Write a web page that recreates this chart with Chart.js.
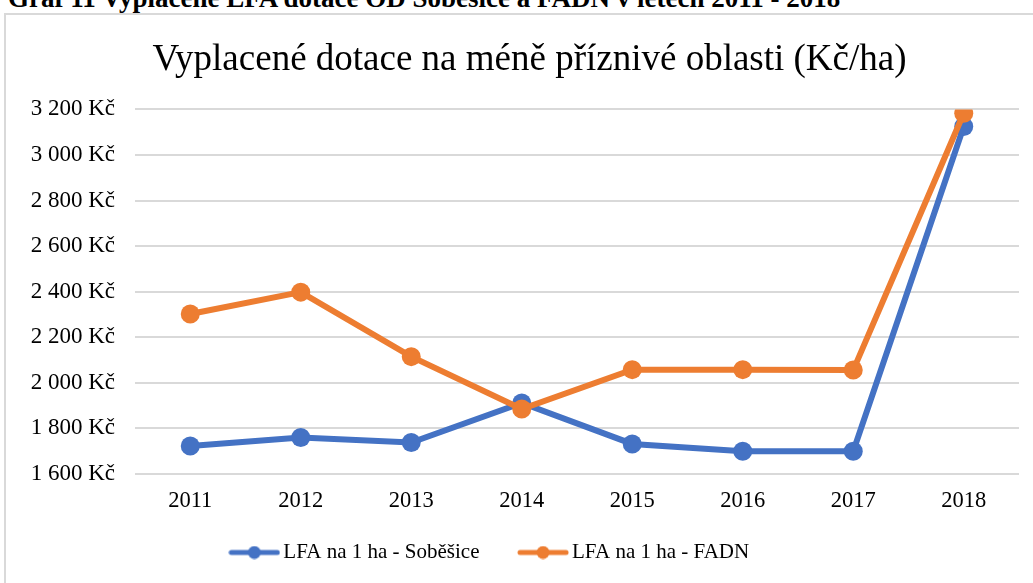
<!DOCTYPE html>
<html>
<head>
<meta charset="utf-8">
<script src="https://cdn.jsdelivr.net/npm/chart.js@4.4.0/dist/chart.umd.min.js"></script>
<style>
  html, body { margin: 0; padding: 0; background: #fff; overflow: hidden; }
  #page { position: relative; width: 1033px; height: 583px; }
  #heading {
    position: absolute; left: 8px; top: -17px; white-space: nowrap;
    font: bold 27px "Liberation Serif", "Times New Roman", serif; color: #000;
  }
  #frame {
    position: absolute; left: 4px; top: 13px; width: 1100px; height: 700px;
    border: 2px solid #d9d9d9; box-sizing: border-box;
  }
  #wrap { position: absolute; left: 0; top: 0; width: 1033px; height: 583px; }
</style>
</head>
<body>
<div id="page">
  <div id="heading">Graf 11 Vyplacené LFA dotace OD Soběšice a FADN v letech 2011 - 2018</div>
  <div id="frame"></div>
  <div id="wrap"><canvas id="chart"></canvas></div>
</div>
<script>
// ==== DATA ====
const years     = ['2011', '2012', '2013', '2014', '2015', '2016', '2017', '2018'];
const sobesice  = [1723, 1760, 1738, 1912, 1732, 1700, 1700, 3125];
const fadn      = [2302, 2398, 2115, 1885, 2058, 2058, 2056, 3183];
const seriesNames = ['LFA na 1 ha - Soběšice', 'LFA na 1 ha - FADN'];

const BLUE   = '#4472C4';
const ORANGE = '#ED7D31';
const SERIF  = '"Liberation Serif", "Times New Roman", serif';

// legend marker: line with a dot in the middle
function legendMarker(color) {
  const c = document.createElement('canvas');
  c.width = 52; c.height = 14;
  const g = c.getContext('2d');
  g.strokeStyle = color; g.lineWidth = 5; g.lineCap = 'round';
  g.beginPath(); g.moveTo(3, 7); g.lineTo(49, 7); g.stroke();
  g.fillStyle = color;
  g.beginPath(); g.arc(26, 7, 6.5, 0, Math.PI * 2); g.fill();
  return c;
}
const markers = [legendMarker(BLUE), legendMarker(ORANGE)];

function ds(label, data, color, order) {
  return {
    label, data, order,
    borderColor: color, backgroundColor: color,
    borderWidth: 6, pointRadius: 9.5, pointHoverRadius: 9.5,
    pointBorderWidth: 0, tension: 0
  };
}

// nudge title / legend like in the original
const nudge = {
  id: 'nudge',
  afterLayout(chart) {
    chart.titleBlock.left += 20; chart.titleBlock.right += 20;
    const lg = chart.legend;
    lg.left -= 17; lg.right -= 17;
    lg.top -= 18; lg.bottom -= 18;
  }
};

new Chart(document.getElementById('chart'), {
  type: 'line',
  data: {
    labels: years,
    datasets: [ds(seriesNames[0], sobesice, BLUE, 2), ds(seriesNames[1], fadn, ORANGE, 1)]
  },
  plugins: [nudge],
  options: {
    responsive: true, maintainAspectRatio: false, animation: false,
    layout: { padding: { left: 0, right: 14, top: 0, bottom: -8 } },
    plugins: {
      title: {
        display: true,
        text: 'Vyplacené dotace na méně příznivé oblasti (Kč/ha)',
        color: '#000',
        font: { family: SERIF, size: 37, weight: 'normal' },
        padding: { top: 38, bottom: 27 }
      },
      legend: {
        position: 'bottom',
        labels: {
          color: '#000',
          font: { family: SERIF, size: 21 },
          usePointStyle: true,
          pointStyleWidth: 37,
          padding: 45,
          generateLabels(chart) {
            return chart.data.datasets.map((d, i) => ({
              text: d.label, datasetIndex: i, pointStyle: markers[i],
              fillStyle: d.borderColor, strokeStyle: d.borderColor, lineWidth: 0, fontColor: '#000'
            }));
          }
        }
      },
      tooltip: { enabled: false }
    },
    scales: {
      x: {
        offset: true,
        afterFit(scale) { scale.height = 41; },
        grid: { display: false, drawTicks: false },
        border: { display: false },
        ticks: { color: '#000', font: { family: SERIF, size: 22.5 }, padding: 14 }
      },
      y: {
        min: 1600, max: 3200,
        afterFit(scale) { scale.width = 135; },
        grid: { color: '#d9d9d9', lineWidth: 2, drawTicks: false },
        border: { display: false },
        ticks: {
          stepSize: 200, padding: 20, color: '#000',
          font: { family: SERIF, size: 23 },
          callback: v => v.toLocaleString('cs-CZ').replace(/\s/g, ' ') + ' Kč'
        }
      }
    }
  }
});
</script>
</body>
</html>
